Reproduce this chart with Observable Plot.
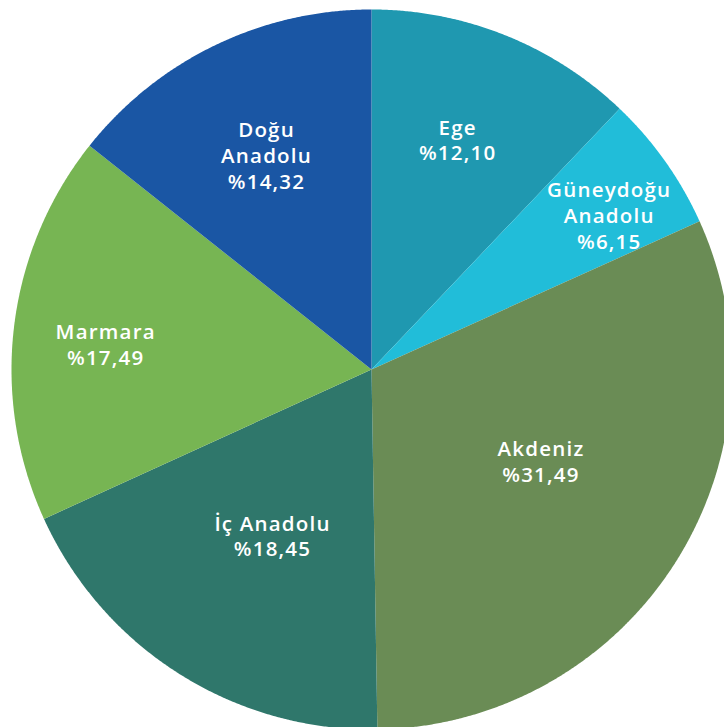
<!DOCTYPE html>
<html><head><meta charset="utf-8">
<script src="https://cdn.jsdelivr.net/npm/d3@7"></script>
<script src="https://cdn.jsdelivr.net/npm/@observablehq/plot@0.6"></script>
<style>
  html,body{margin:0;padding:0;background:#fff}
  #chart svg text{letter-spacing:1.2px}
</style></head>
<body><div id="chart"></div>
<script>
// ---- data ----
const regions = ["Ege", "Güneydoğu Anadolu", "Akdeniz", "İç Anadolu", "Marmara", "Doğu Anadolu"];
const regionLabels = ["Ege", "Güneydoğu\nAnadolu", "Akdeniz", "İç Anadolu", "Marmara", "Doğu\nAnadolu"];
const shares = [12.10, 6.15, 31.49, 18.45, 17.49, 14.32];
const shareLabels = ["%12,10", "%6,15", "%31,49", "%18,45", "%17,49", "%14,32"];
const colors = ["#1f98b0", "#21bdd9", "#6a8c55", "#2f776b", "#77b553", "#1a56a4"];

// ---- layout ----
const W = 724, H = 727;
const cx = 371, cy = 369, R = 360;
const labelRadius = [245, 283, 193, 194, 267, 238];
const labelTurnDeg = [-1.2, 2.5, -3.8, -1.6, -1.6, -0.4];

const rows = regions.map((name, i) => ({name, label: regionLabels[i] + "\n" + shareLabels[i], share: shares[i], i}));
const arcs = d3.pie().sort(null).value(d => d.share)(rows);

const pt = (a, r) => [cx + r * Math.sin(a), cy - r * Math.cos(a)];

const features = arcs.map(a => {
  const ring = [[cx, cy]];
  const steps = Math.max(4, Math.ceil((a.endAngle - a.startAngle) / (Math.PI / 720)));
  for (let k = 0; k <= steps; k++) {
    ring.push(pt(a.startAngle + (a.endAngle - a.startAngle) * k / steps, R));
  }
  ring.push([cx, cy]);
  return {type: "Feature", properties: {name: a.data.name}, geometry: {type: "Polygon", coordinates: [ring]}};
});

const labels = arcs.map(a => {
  const i = a.data.i;
  const mid = (a.startAngle + a.endAngle) / 2 + labelTurnDeg[i] * Math.PI / 180;
  const [x, y] = pt(mid, labelRadius[i]);
  return {x, y, label: a.data.label};
});

const chart = Plot.plot({
  width: W, height: H,
  margin: 0,
  projection: {type: "identity"},
  color: {domain: regions, range: colors},
  marks: [
    Plot.geo(features, {fill: d => d.properties.name, stroke: "none"}),
    Plot.text(labels, {
      x: "x", y: "y", text: "label", dy: -1,
      fill: "white", fontSize: 20.5, fontWeight: 600,
      fontFamily: "'Open Sans', sans-serif",
      lineHeight: 1.25, textAnchor: "middle", lineAnchor: "middle"
    })
  ]
});
document.getElementById("chart").appendChild(chart);
</script>
</body></html>
